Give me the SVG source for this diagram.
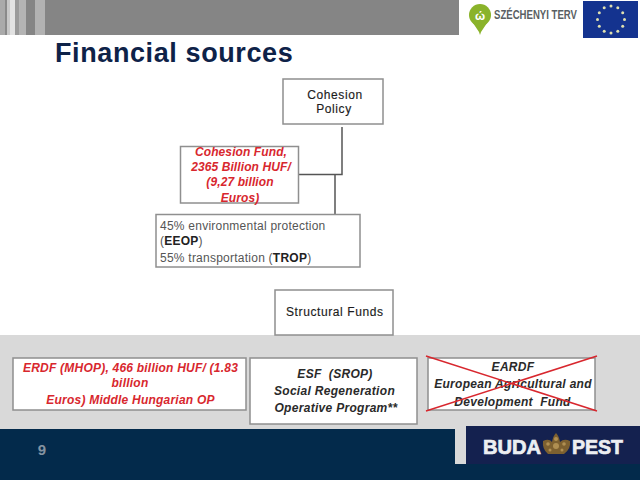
<svg xmlns="http://www.w3.org/2000/svg" width="640" height="480" viewBox="0 0 640 480">
  <style>
    text { font-family: "Liberation Sans", Arial, sans-serif; }
    .box { fill: #fff; stroke: #8f8f8f; stroke-width: 1.5; }
    .dark { font-size: 12px; fill: #1c1c1c; letter-spacing: .6px; stroke: #1c1c1c; stroke-width: .15px; }
    .grey { font-size: 12px; fill: #555; letter-spacing: .24px; }
    .red { font-size: 12px; font-style: italic; font-weight: bold; fill: #d8272e; text-anchor: middle; letter-spacing: .1px; }
    .wide { letter-spacing: .22px; }
    .ink { font-size: 12px; font-style: italic; font-weight: bold; fill: #2a2a2a; text-anchor: middle; letter-spacing: .3px; }
    .mid { text-anchor: middle; }
    .link { fill: none; stroke: #555; stroke-width: 1.5; }
    .cross { stroke: #d8272e; stroke-width: 1.6; }
    .brand { font-size: 20px; font-weight: bold; fill: #eceef2; stroke: #eceef2; stroke-width: .7px; }
  </style>

  <!-- page background and bands -->
  <g id="background">
    <rect width="640" height="480" fill="#fff"/>
    <rect x="0" y="0" width="459" height="35" fill="#858585"/>
    <rect x="0" y="0" width="5" height="35" fill="#aaaaaa"/>
    <rect x="5" y="0" width="2" height="35" fill="#8a8a8a"/>
    <rect x="7" y="0" width="3" height="35" fill="#c8c8c8"/>
    <rect x="10" y="0" width="5" height="35" fill="#e2e2e2"/>
    <rect x="15" y="0" width="4" height="35" fill="#9a9a9a"/>
    <rect x="19" y="0" width="7" height="35" fill="#b4b4b4"/>
    <rect x="26" y="0" width="9" height="35" fill="#858585"/>
    <rect x="35" y="0" width="10" height="35" fill="#b2b2b2"/>
    <rect x="0" y="335" width="640" height="94" fill="#d9d9d9"/>
    <rect x="0" y="429" width="640" height="51" fill="#032a4b"/>
    <rect x="455" y="427" width="11" height="37" fill="#d9d9d9"/>
    <rect x="466" y="426" width="174" height="38" fill="#14214f"/>
  </g>

  <text x="55" y="62" font-size="27" font-weight="bold" fill="#0e2248" letter-spacing=".6">Financial sources</text>
  <text x="42" y="455" font-size="15" font-weight="bold" fill="#8593a1" text-anchor="middle">9</text>

  <!-- Szechenyi Terv mark -->
  <g id="logo-szechenyi">
    <circle cx="480" cy="15" r="11" fill="#8ab32a"/>
    <path d="M473 23 L487 23 L481 32 L480 35 L479 32 Z" fill="#8ab32a"/>
    <text x="480" y="20" font-size="12" font-weight="bold" fill="#fff" text-anchor="middle">ώ</text>
    <text x="494" y="19" font-size="12" font-weight="bold" fill="#5a5f63" textLength="83" lengthAdjust="spacingAndGlyphs">SZÉCHENYI TERV</text>
  </g>

  <!-- European flag -->
  <g id="logo-eu">
    <rect x="583" y="1" width="55" height="37" fill="#14338f"/>
    <g fill="#dfe0b0">
      <circle cx="611" cy="6" r="1.5"/><circle cx="617.800" cy="7.800" r="1.5"/><circle cx="622.700" cy="12.700" r="1.5"/>
      <circle cx="624.500" cy="19.500" r="1.5"/><circle cx="622.700" cy="26.300" r="1.5"/><circle cx="617.800" cy="31.200" r="1.5"/>
      <circle cx="611" cy="33" r="1.5"/><circle cx="604.200" cy="31.200" r="1.5"/><circle cx="599.300" cy="26.300" r="1.5"/>
      <circle cx="597.500" cy="19.500" r="1.5"/><circle cx="599.300" cy="12.700" r="1.5"/><circle cx="604.200" cy="7.800" r="1.5"/>
    </g>
  </g>

  <!-- Budapest mark -->
  <g id="logo-budapest">
    <text class="brand" x="483" y="454" textLength="58" lengthAdjust="spacingAndGlyphs">BUDA</text>
    <path d="M543 441 Q549 438 552 442 Q553 436 556 433 Q559 436 560 442 Q564 438 570 441 Q571 449 564 454 H548 Q542 449 543 441 Z" fill="#7d6030"/>
    <g fill="#b08f52">
      <circle cx="556" cy="439" r="2"/><circle cx="556" cy="446" r="3"/>
      <circle cx="548" cy="444" r="1.800"/><circle cx="564" cy="444" r="1.800"/>
      <circle cx="550" cy="450" r="1.500"/><circle cx="562" cy="450" r="1.500"/>
    </g>
    <text class="brand" x="572" y="454" textLength="51" lengthAdjust="spacingAndGlyphs">PEST</text>
  </g>

  <!-- connectors -->
  <g id="connectors">
    <path class="link" d="M342 127 V174.500 H298"/>
    <path class="link" d="M335 174.500 V214"/>
  </g>

  <g id="node-cohesion-policy">
    <rect class="box" x="283" y="79" width="100" height="45"/>
    <text class="dark mid" x="335" y="99">Cohesion</text>
    <text class="dark mid" x="334" y="113">Policy</text>
  </g>

  <g id="node-cohesion-fund">
    <rect class="box" x="180.500" y="146.500" width="118" height="56.500"/>
    <text class="red" x="241" y="156">Cohesion Fund,</text>
    <text class="red" x="241" y="171">2365 Billion HUF/</text>
    <text class="red" x="240" y="186">(9,27 billion</text>
    <text class="red" x="240" y="202">Euros)</text>
  </g>

  <g id="node-allocation">
    <rect class="box" x="156" y="214.500" width="204" height="52.500"/>
    <text class="grey" x="160" y="230">45% environmental protection</text>
    <text class="grey" x="160" y="245">(<tspan font-weight="bold" fill="#222">EEOP</tspan>)</text>
    <text class="grey" x="160" y="262">55% transportation (<tspan font-weight="bold" fill="#222">TROP</tspan>)</text>
  </g>

  <g id="node-structural-funds">
    <rect class="box" x="275" y="290" width="118" height="45"/>
    <text class="dark" x="286" y="316">Structural Funds</text>
  </g>

  <g id="node-erdf">
    <rect class="box" x="13" y="358" width="233" height="52"/>
    <text class="red wide" x="130.500" y="372">ERDF (MHOP), 466 billion HUF/ (1.83</text>
    <text class="red wide" x="130" y="387">billion</text>
    <text class="red wide" x="130.500" y="404">Euros) Middle Hungarian OP</text>
  </g>

  <g id="node-esf">
    <rect class="box" x="250" y="358" width="167" height="66"/>
    <text class="ink" x="335" y="378" xml:space="preserve">ESF  (SROP)</text>
    <text class="ink" x="334.500" y="395">Social Regeneration</text>
    <text class="ink" x="336" y="412">Operative Program**</text>
  </g>

  <g id="node-eardf">
    <rect class="box" x="428" y="358" width="167" height="52"/>
    <text class="ink" x="513" y="371">EARDF</text>
    <text class="ink" x="513" y="388">European Agricultural and</text>
    <text class="ink" x="512.500" y="406" xml:space="preserve">Development  Fund</text>
    <path class="cross" d="M426 356 L597 411 M426 411 L597 356"/>
  </g>
</svg>
